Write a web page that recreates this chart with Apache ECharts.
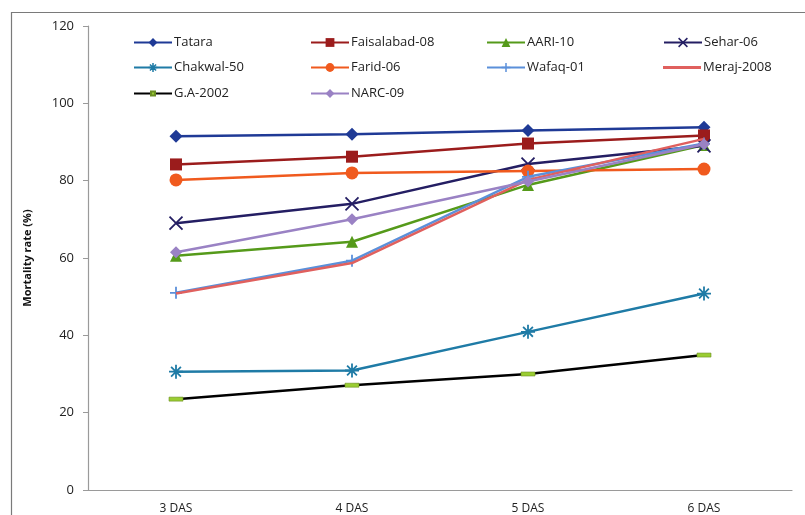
<!DOCTYPE html>
<html><head><meta charset="utf-8">
<script src="https://cdn.jsdelivr.net/npm/echarts@6/dist/echarts.min.js"></script>
<style>html,body{margin:0;padding:0;background:#fff}#c{width:805px;height:515px}</style>
</head><body><div id="c"></div>
<script>
const categories = ['3 DAS', '4 DAS', '5 DAS', '6 DAS'];
const seriesNames = ['Tatara', 'Faisalabad-08', 'AARI-10', 'Sehar-06', 'Chakwal-50', 'Farid-06', 'Wafaq-01', 'Meraj-2008', 'G.A-2002', 'NARC-09'];
const tatara = [91.5, 92.0, 93.0, 93.8];
const faisalabad08 = [84.2, 86.2, 89.6, 91.7];
const aari10 = [60.6, 64.2, 78.9, 89.2];
const sehar06 = [69.0, 74.0, 84.3, 89.0];
const chakwal50 = [30.6, 30.9, 40.9, 50.8];
const farid06 = [80.2, 82.0, 82.5, 83.0];
const wafaq01 = [51.0, 59.3, 81.0, 89.6];
const meraj2008 = [50.8, 58.7, 80.2, 90.8];
const ga2002 = [23.5, 27.1, 30.0, 34.9];
const narc09 = [61.5, 70.0, 79.8, 89.4];
const yTicks = [0, 20, 40, 60, 80, 100, 120];

const values = [tatara, faisalabad08, aari10, sehar06, chakwal50, farid06, wafaq01, meraj2008, ga2002, narc09];
const colors = ['#1F3A96', '#9B1C1C', '#559A1A', '#241E63', '#1F7BA6', '#F05A1E', '#5B90DA', '#E0605E', '#000000', '#9A82C4'];
const X = 'path://M0,0L10,10M10,0L0,10';
const AST = 'path://M5,0L5,10M0,5L10,5M1.5,1.5L8.5,8.5M8.5,1.5L1.5,8.5';
const PLUS = 'path://M5,0L5,10M0,5L10,5';
const symbols = ['diamond', 'rect', 'triangle', X, AST, 'circle', PLUS, 'none', 'rect', 'diamond'];
const sizes = [13, 12, 12, 13, 14, 13, 12, 0, [14, 4], 12];
const strokeOnly = [false, false, false, true, true, false, true, false, false, false];

const font = '"Open Sans", "Noto Sans", sans-serif';

const series = seriesNames.map((n, i) => {
  const s = {
    name: n, type: 'line', data: values[i],
    symbol: symbols[i], symbolSize: sizes[i], showSymbol: symbols[i] !== 'none',
    lineStyle: { color: colors[i], width: 2.5 },
    itemStyle: { color: colors[i] },
    z: 2 + i
  };
  if (strokeOnly[i]) {
    s.itemStyle = { color: 'rgba(0,0,0,0)', borderColor: colors[i], borderWidth: 1.8 };
  }
  if (i === 8) {
    s.itemStyle = { color: '#9ACD32', borderColor: '#6B8E23', borderWidth: 0.5 };
  }
  return s;
});

const colX = [133, 310, 486, 663];
const rowY = [36, 61, 87];
const legends = seriesNames.map((n, i) => {
  const item = { name: n };
  if (strokeOnly[i]) item.itemStyle = { color: 'rgba(0,0,0,0)', borderColor: colors[i], borderWidth: 1.5 };
  if (i === 7) item.icon = 'rect';
  const h = i === 7 ? 3 : (i === 8 ? 5 : 11);
  return {
    data: [item],
    left: colX[i % 4], top: rowY[Math.floor(i / 4)],
    itemWidth: 38, itemHeight: h, itemGap: 2, padding: 0,
    textStyle: { fontFamily: font, fontSize: 13, color: '#222', padding: [0, 0, 0, -3] },
    selectedMode: false
  };
});

const chart = echarts.init(document.getElementById('c'));
chart.setOption({
  backgroundColor: '#fff',
  animation: false,
  color: colors,
  graphic: [{ type: 'rect', shape: { x: 11.5, y: 12.5, width: 820, height: 520 }, style: { fill: 'none', stroke: '#7a7a7a', lineWidth: 1.2 }, silent: true, z: -1 }],
  legend: legends,
  grid: { left: 88, right: 13, top: 26, bottom: 25 },
  xAxis: {
    type: 'category', data: categories, boundaryGap: true,
    axisLine: { lineStyle: { color: '#9a9a9a', width: 1.2 } },
    axisTick: { inside: true, length: 4, lineStyle: { color: '#9a9a9a' } },
    axisLabel: { fontFamily: font, fontSize: 12, color: '#222', margin: 13 }
  },
  yAxis: {
    type: 'value', min: yTicks[0], max: yTicks[yTicks.length - 1], interval: 20,
    name: 'Mortality rate (%)', nameLocation: 'middle', nameGap: 55,
    nameTextStyle: { fontFamily: font, fontSize: 11, fontWeight: 'bold', color: '#111' },
    axisLine: { show: true, lineStyle: { color: '#9a9a9a', width: 1.2 } },
    axisTick: { show: true, length: 5, lineStyle: { color: '#9a9a9a' } },
    splitLine: { show: false },
    axisLabel: { fontFamily: font, fontSize: 13, color: '#222', margin: 14 }
  },
  series: series
});
</script></body></html>
